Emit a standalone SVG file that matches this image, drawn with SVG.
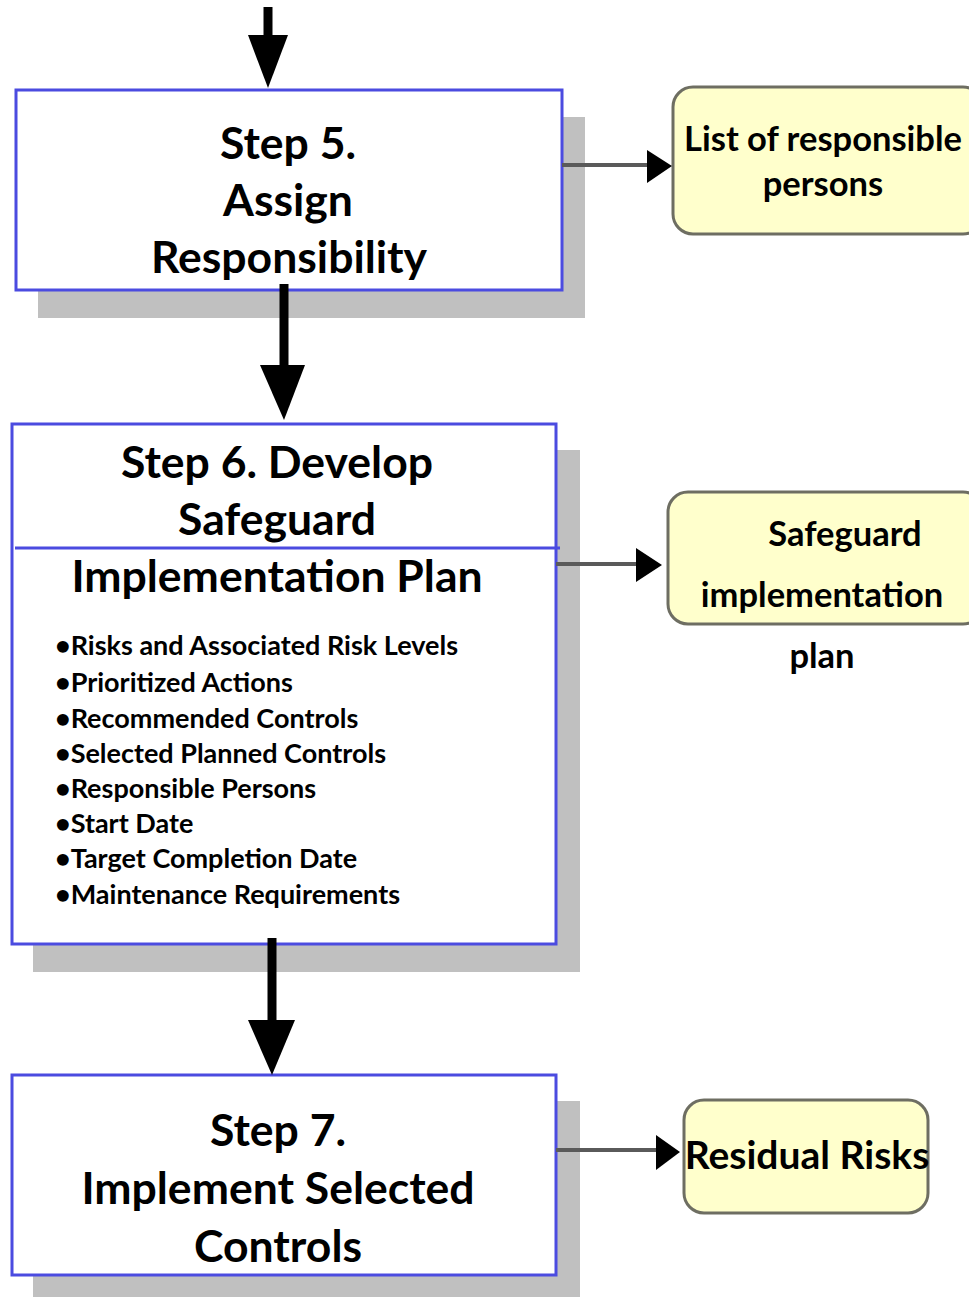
<svg xmlns="http://www.w3.org/2000/svg" width="969" height="1297" viewBox="0 0 969 1297">
<defs>
<style>
.step{fill:#ffffff;stroke:#4b4be0;stroke-width:3}
.shadow{fill:#c0c0c0}
.out{fill:#ffffcc;stroke:#6e6e62;stroke-width:3}
.t{font-family:Lato,"Liberation Sans",sans-serif;font-weight:bold;fill:#000;text-anchor:middle}
.big{font-size:44.5px}
.mid{font-size:34.5px}
.b{font-family:Lato,"Liberation Sans",sans-serif;font-weight:bold;fill:#000;font-size:27px}
.shaft{stroke:#000;stroke-width:9}
.conn{stroke:#5a5a5a;stroke-width:4}
</style>
</defs>
<g id="step5">
<rect class="shadow" x="38" y="117" width="547" height="201"/>
<rect class="step" x="16" y="90" width="546" height="200"/>
<text class="t big" x="288" y="159">Step 5.</text>
<text class="t big" x="288" y="216">Assign</text>
<text class="t big" x="289" y="273">Responsibility</text>
</g>
<g id="out1">
<rect class="out" x="673" y="87" width="310" height="147" rx="20"/>
<text class="t mid" x="823" y="151">List of responsible</text>
<text class="t mid" x="823" y="196">persons</text>
</g>
<g id="step6">
<rect class="shadow" x="33" y="450" width="547" height="522"/>
<rect class="step" x="12" y="424" width="544" height="520"/>
<line x1="15" y1="548" x2="560" y2="548" stroke="#4b4be0" stroke-width="3"/>
<text class="t big" x="277" y="478">Step 6. Develop</text>
<text class="t big" x="277" y="535">Safeguard</text>
<text class="t big" x="277" y="592">Implementation Plan</text>
<text class="b" x="55" y="655">•Risks and Associated Risk Levels</text>
<text class="b" x="55" y="692">•Prioritized Actions</text>
<text class="b" x="55" y="728">•Recommended Controls</text>
<text class="b" x="55" y="763">•Selected Planned Controls</text>
<text class="b" x="55" y="798">•Responsible Persons</text>
<text class="b" x="55" y="833">•Start Date</text>
<text class="b" x="55" y="868">•Target Completion Date</text>
<text class="b" x="55" y="904">•Maintenance Requirements</text>
</g>
<g id="out2">
<rect class="out" x="668" y="492" width="315" height="132" rx="20"/>
<text class="t mid" x="845" y="546">Safeguard</text>
<text class="t mid" x="822" y="607">implementation</text>
<text class="t mid" x="822" y="668">plan</text>
</g>
<g id="step7">
<rect class="shadow" x="33" y="1101" width="547" height="196"/>
<rect class="step" x="12" y="1075" width="544" height="200"/>
<text class="t big" x="278" y="1146">Step 7.</text>
<text class="t big" x="278" y="1204">Implement Selected</text>
<text class="t big" x="278" y="1262">Controls</text>
</g>
<g id="out3">
<rect class="out" x="684" y="1100" width="244" height="113" rx="20"/>
<text class="t" x="807" y="1169" font-size="39">Residual Risks</text>
</g>
<g id="connectors">
<line class="shaft" x1="268" y1="7" x2="268" y2="40"/>
<polygon points="248,35 288,35 268,88" fill="#000"/>
<line class="shaft" x1="284" y1="284" x2="284" y2="368"/>
<polygon points="260,365 305,365 284,420" fill="#000"/>
<line class="shaft" x1="272" y1="938" x2="272" y2="1023"/>
<polygon points="248,1020 295,1020 272,1075" fill="#000"/>
<line class="conn" x1="562" y1="165" x2="650" y2="165"/>
<polygon points="647,150 672,166 647,183" fill="#000"/>
<line class="conn" x1="556" y1="564" x2="638" y2="564"/>
<polygon points="636,548 662,565 636,582" fill="#000"/>
<line class="conn" x1="556" y1="1150" x2="658" y2="1150"/>
<polygon points="656,1135 680,1152 656,1170" fill="#000"/>
</g>
</svg>
